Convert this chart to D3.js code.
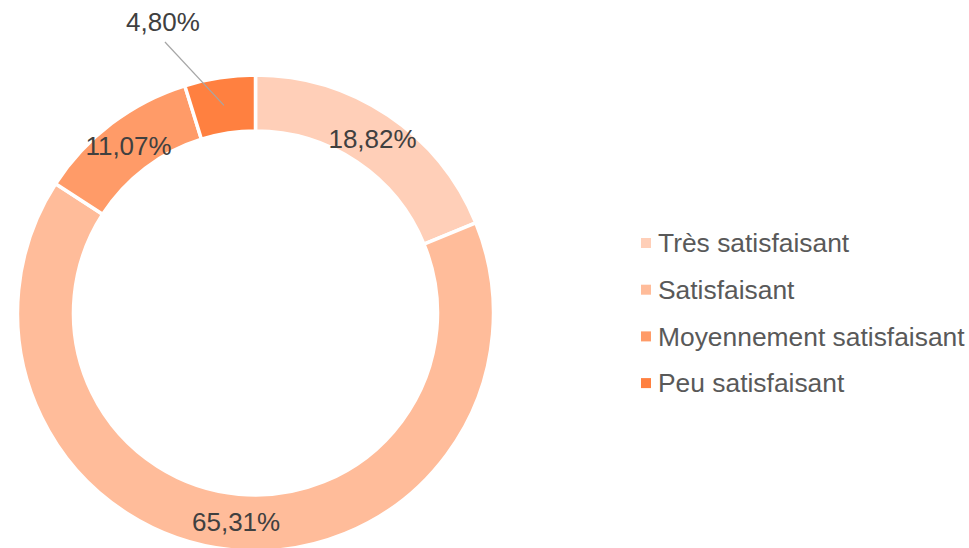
<!DOCTYPE html>
<html>
<head>
<meta charset="utf-8">
<script src="https://cdn.jsdelivr.net/npm/d3@7"></script>
<style>
  body { margin: 0; background: #fff; }
  svg { display: block; }
  .label { font-family: "Liberation Sans", Arial, sans-serif; font-size: 26px; fill: #404040; }
  .legend text { font-family: "Liberation Sans", Arial, sans-serif; font-size: 26.4px; fill: #595959; }
</style>
</head>
<body>
<script>
// Categories, values (percent) and slice colours
var categories = ["Très satisfaisant", "Satisfaisant", "Moyennement satisfaisant", "Peu satisfaisant"];
var values = [18.82, 65.31, 11.07, 4.80];
var labels = ["18,82%", "65,31%", "11,07%", "4,80%"];
var colors = ["#FFCFB8", "#FFBC9A", "#FF9B68", "#FF8040"];

var w = 969;
var h = 548;
var cx = 255.5;
var cy = 313;
var outerR = 238;
var innerR = 182;

var svg = d3.select("body")
    .append("svg")
    .attr("width", w)
    .attr("height", h);

var g = svg.append("g")
    .attr("transform", "translate(" + cx + "," + cy + ")");

// Pie layout keeps the data order, clockwise from the top
var pie = d3.pie()
    .sort(null)
    .value(function(d) { return d; });

var arcs = pie(values);

var arc = d3.arc()
    .innerRadius(innerR)
    .outerRadius(outerR);

var midArc = d3.arc()
    .innerRadius((innerR + outerR) / 2)
    .outerRadius((innerR + outerR) / 2);

// Draw the slices with white borders between them
g.selectAll("path")
    .data(arcs)
    .enter()
    .append("path")
    .attr("d", arc)
    .attr("fill", function(d, i) { return colors[i]; })
    .attr("stroke", "#fff")
    .attr("stroke-width", 3.5);

// Labels in the middle of the ring, the small slice gets a leader line
arcs.forEach(function(d, i) {
  var p = midArc.centroid(d);
  if (i == 3) {
    var lx = p[0] - 61;
    var ly = -291;
    g.append("line")
        .attr("x1", p[0])
        .attr("y1", p[1])
        .attr("x2", lx + 2)
        .attr("y2", ly + 20)
        .attr("stroke", "#A6A6A6")
        .attr("stroke-width", 1.2);
    g.append("text")
        .attr("class", "label")
        .attr("x", lx)
        .attr("y", ly)
        .attr("text-anchor", "middle")
        .attr("dy", "0.35em")
        .text(labels[i]);
  } else {
    g.append("text")
        .attr("class", "label")
        .attr("x", p[0])
        .attr("y", p[1])
        .attr("text-anchor", "middle")
        .attr("dy", "0.35em")
        .text(labels[i]);
  }
});

// Legend on the right
var legend = svg.selectAll(".legend")
    .data(categories)
    .enter().append("g")
    .attr("class", "legend")
    .attr("transform", function(d, i) { return "translate(641," + (243 + i * 46.7) + ")"; });

legend.append("rect")
    .attr("x", 0)
    .attr("y", -5)
    .attr("width", 10)
    .attr("height", 10)
    .attr("fill", function(d, i) { return colors[i]; });

legend.append("text")
    .attr("x", 17)
    .attr("y", 0)
    .attr("dy", "0.35em")
    .text(function(d) { return d; });
</script>
</body>
</html>
